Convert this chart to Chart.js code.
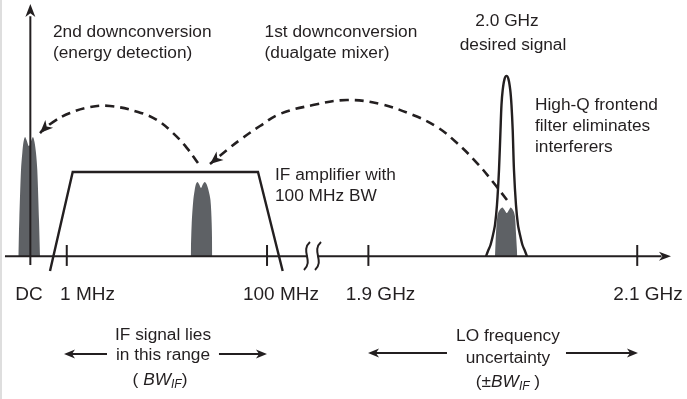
<!DOCTYPE html>
<html>
<head>
<meta charset="utf-8">
<script src="https://cdn.jsdelivr.net/npm/chart.js@4.4.1/dist/chart.umd.min.js"></script>
<style>
  html, body { margin: 0; padding: 0; background: #fff; }
  canvas { display: block; }
</style>
</head>
<body>
<canvas id="diagram" width="687" height="399"></canvas>
<script>
// Trục tần số (đơn vị sơ đồ: DC = 0, 2.1 GHz = 100), biên độ: đỉnh tín hiệu mong muốn = 1
const tickPositions = [0, 6, 39, 55.7, 100];
const tickLabels = ['DC', '1 MHz', '100 MHz', '1.9 GHz', '2.1 GHz'];
const tickLabelPositions = [-0.22, 9.42, 41.3, 57.7, 101.77];

// Tín hiệu sau lần hạ tần thứ 2 (quanh DC)
const dcSignalX = [-1.985, -1.82, -1.54, -1.326, -1.128, -0.881, -0.634, -0.222, 0.19, 0.437, 0.685, 0.932, 1.146, 1.426, 1.591];
const dcSignalY = [0, 0.201, 0.478, 0.573, 0.633, 0.661, 0.645, 0.611, 0.645, 0.661, 0.633, 0.573, 0.478, 0.201, 0];

// Tín hiệu IF
const ifSignalX = [26.42, 26.59, 26.85, 27.08, 27.29, 27.54, 27.79, 28.12, 28.45, 28.74, 29.03, 29.35, 29.68, 29.88, 29.98];
const ifSignalY = [0, 0.185, 0.312, 0.368, 0.401, 0.412, 0.401, 0.379, 0.401, 0.412, 0.401, 0.368, 0.312, 0.185, 0];

// Tín hiệu RF 2.0 GHz
const rfSignalX = [76.56, 76.73, 76.94, 77.22, 77.76, 78.13, 78.49, 78.87, 79.15, 79.61, 79.86, 80.02, 80.24];
const rfSignalY = [0, 0.129, 0.218, 0.251, 0.270, 0.257, 0.240, 0.257, 0.270, 0.251, 0.218, 0.129, 0];

// Bộ khuếch đại IF băng thông 100 MHz
const ifFilterX = [3.24, 6.98, 37.51, 41.58];
const ifFilterY = [-0.081, 0.467, 0.467, -0.081];

// Bộ lọc đầu vào High-Q
const rfFilterX = [75.08, 75.41, 75.82, 76.23, 76.56, 76.89, 77.22, 77.47, 77.63, 77.83, 78.13, 78.46,
                   78.78, 79.08, 79.28, 79.48, 79.69, 80.02, 80.35, 80.69, 81.09, 81.50, 81.83];
const rfFilterY = [0, 0.03, 0.063, 0.118, 0.174, 0.285, 0.478, 0.70, 0.838, 0.921, 0.982, 1.0,
                   0.982, 0.921, 0.838, 0.70, 0.478, 0.285, 0.174, 0.118, 0.063, 0.03, 0];

// Các mũi tên hạ tần (nét đứt)
const arc2ndX = [27.62, 25.81, 23.51, 20.87, 17.74, 13.12, 9.83, 6.53, 3.73, 1.92, 1.59];
const arc2ndY = [0.517, 0.600, 0.683, 0.755, 0.800, 0.833, 0.827, 0.794, 0.744, 0.694, 0.683];
const arc1stX = [78.54, 76.23, 73.60, 70.30, 67.0, 63.05, 57.61, 52.18, 46.57, 41.14, 37.84, 34.54, 32.40, 29.60];
const arc1stY = [0.312, 0.412, 0.517, 0.628, 0.717, 0.783, 0.844, 0.866, 0.838, 0.789, 0.722, 0.645, 0.589, 0.512];

const INK = '#231f20';
const GRAY = '#5e6165';
const FONT = '"Liberation Sans", Arial, sans-serif';
const NOTE_FONT = '17.3px ' + FONT;

// Chú thích (vị trí theo đơn vị của trục)
const notes = [
    { text: '2nd downconversion', x: 3.73, y: 1.243, align: 'left' },
    { text: '(energy detection)', x: 3.73, y: 1.126, align: 'left' },
    { text: '1st downconversion', x: 38.6, y: 1.243, align: 'left' },
    { text: '(dualgate mixer)', x: 38.6, y: 1.126, align: 'left' },
    { text: '2.0 GHz', x: 78.54, y: 1.304, align: 'center' },
    { text: 'desired signal', x: 79.53, y: 1.171, align: 'center' },
    { text: 'High-Q frontend', x: 83.15, y: 0.838, align: 'left' },
    { text: 'filter eliminates', x: 83.15, y: 0.722, align: 'left' },
    { text: 'interferers', x: 83.15, y: 0.606, align: 'left' },
    { text: 'IF amplifier with', x: 40.31, y: 0.451, align: 'left' },
    { text: '100 MHz BW', x: 40.31, y: 0.334, align: 'left' },
    { text: 'IF signal lies', x: 21.86, y: -0.436, align: 'center' },
    { text: 'in this range', x: 21.86, y: -0.546, align: 'center' },
    { text: 'LO frequency', x: 78.70, y: -0.441, align: 'center' },
    { text: 'uncertainty', x: 78.70, y: -0.563, align: 'center' }
];
const bwNotes = [
    { prefix: '( ', x: 21.36, y: -0.685 },
    { prefix: '(\u00b1', x: 78.70, y: -0.696, suffix: ' )' }
];
const rangeArrows = [
    { from: 12.63, to: 5.55, y: -0.541 },
    { from: 31.08, to: 38.99, y: -0.541 },
    { from: 68.65, to: 55.64, y: -0.535 },
    { from: 88.26, to: 100.12, y: -0.535 }
];

function toPoints(xs, ys) {
    return xs.map((x, i) => ({ x: x, y: ys[i] }));
}

function arrowHead(ctx, tx, ty, angle, len, half) {
    ctx.save();
    ctx.translate(tx, ty);
    ctx.rotate(angle);
    ctx.beginPath();
    ctx.moveTo(0, 0);
    ctx.lineTo(-len, -half);
    ctx.lineTo(-len * 0.72, 0);
    ctx.lineTo(-len, half);
    ctx.closePath();
    ctx.fillStyle = INK;
    ctx.fill();
    ctx.restore();
}

// Vẽ trục, vạch chia, nhãn, mũi tên và chữ
const diagramPlugin = {
    id: 'diagram',
    afterDatasetsDraw(chart) {
        const ctx = chart.ctx;
        const X = v => chart.scales.x.getPixelForValue(v);
        const Y = v => chart.scales.y.getPixelForValue(v);
        ctx.save();

        // viền xám bên trái
        ctx.fillStyle = '#dedede';
        ctx.fillRect(0, 0, 2, chart.height);

        ctx.strokeStyle = INK;
        ctx.lineWidth = 2;
        ctx.lineCap = 'butt';

        // trục ngang
        ctx.beginPath();
        ctx.moveTo(X(-4.18), Y(0));
        ctx.lineTo(X(104), Y(0));
        ctx.stroke();
        arrowHead(ctx, X(105.56), Y(0), 0, 12, 4.5);

        // trục đứng
        ctx.beginPath();
        ctx.moveTo(X(0), Y(-0.048));
        ctx.lineTo(X(0), Y(1.33));
        ctx.stroke();
        arrowHead(ctx, X(0), Y(1.398), -Math.PI / 2, 13, 5);

        // vạch chia
        tickPositions.forEach(p => {
            if (p === 0) return;
            ctx.beginPath();
            ctx.moveTo(X(p), Y(0.063));
            ctx.lineTo(X(p), Y(-0.053));
            ctx.stroke();
        });

        // ký hiệu ngắt trục
        ctx.fillStyle = '#fff';
        ctx.fillRect(X(45.7), Y(0) - 3, X(47.3) - X(45.7), 6);
        [45.58, 47.40].forEach(p => {
            const x = X(p), top = Y(0.08), bot = Y(-0.075);
            ctx.beginPath();
            ctx.moveTo(x + 3, top);
            ctx.bezierCurveTo(x - 7, top + 9, x + 7, bot - 9, x - 3, bot);
            ctx.stroke();
        });

        // mũi tên ở cuối các đường nét đứt
        chart.data.datasets.forEach((ds, i) => {
            if (!ds.arrowEnd) return;
            const pts = chart.getDatasetMeta(i).data;
            const a = pts[pts.length - 2], b = pts[pts.length - 1];
            arrowHead(ctx, b.x, b.y, Math.atan2(b.y - a.y, b.x - a.x), 13, 5.5);
        });

        // mũi tên chỉ khoảng
        ctx.lineWidth = 2;
        rangeArrows.forEach(r => {
            const dir = r.to > r.from ? 1 : -1;
            ctx.beginPath();
            ctx.moveTo(X(r.from), Y(r.y));
            ctx.lineTo(X(r.to) - dir * 7, Y(r.y));
            ctx.stroke();
            arrowHead(ctx, X(r.to), Y(r.y), dir > 0 ? 0 : Math.PI, 11, 4.5);
        });

        // nhãn trục
        ctx.fillStyle = INK;
        ctx.textBaseline = 'middle';
        ctx.textAlign = 'center';
        ctx.font = '19px ' + FONT;
        tickLabels.forEach((t, i) => ctx.fillText(t, X(tickLabelPositions[i]), Y(-0.214)));

        // chú thích
        ctx.font = NOTE_FONT;
        notes.forEach(n => {
            ctx.textAlign = n.align;
            ctx.fillText(n.text, X(n.x), Y(n.y));
        });

        // ( BW_IF )
        ctx.textAlign = 'left';
        bwNotes.forEach(n => {
            const parts = [
                { t: n.prefix, f: NOTE_FONT, dy: 0 },
                { t: 'BW', f: 'italic 17.3px ' + FONT, dy: 0 },
                { t: 'IF', f: 'italic 12px ' + FONT, dy: 5 },
                { t: n.suffix || ')', f: NOTE_FONT, dy: 0 }
            ];
            let w = 0;
            parts.forEach(p => { ctx.font = p.f; w += ctx.measureText(p.t).width; });
            let x = X(n.x) - w / 2;
            parts.forEach(p => {
                ctx.font = p.f;
                ctx.fillText(p.t, x, Y(n.y) + p.dy);
                x += ctx.measureText(p.t).width;
            });
        });

        ctx.restore();
    }
};

window.initializeDiagram = function (canvasId) {
    const el = document.getElementById(canvasId);
    if (!el) {
        console.error('canvas not found:', canvasId);
        return;
    }
    window[canvasId] = new Chart(el, {
        type: 'scatter',
        data: {
            datasets: [
                { data: toPoints(arc2ndX, arc2ndY), showLine: true, borderColor: INK, borderWidth: 2.6,
                  borderDash: [9, 6], tension: 0.4, pointRadius: 0, fill: false, arrowEnd: true, order: 1 },
                { data: toPoints(arc1stX, arc1stY), showLine: true, borderColor: INK, borderWidth: 2.6,
                  borderDash: [9, 6], tension: 0.4, pointRadius: 0, fill: false, arrowEnd: true, order: 1 },
                { data: toPoints(ifFilterX, ifFilterY), showLine: true, borderColor: INK, borderWidth: 2.4,
                  tension: 0, pointRadius: 0, fill: false, order: 2 },
                { data: toPoints(rfFilterX, rfFilterY), showLine: true, borderColor: INK, borderWidth: 2.4,
                  tension: 0.3, pointRadius: 0, fill: false, order: 2 },
                { data: toPoints(dcSignalX, dcSignalY), showLine: true, borderWidth: 0, borderColor: GRAY,
                  backgroundColor: GRAY, tension: 0.3, pointRadius: 0, fill: 'origin', order: 3 },
                { data: toPoints(ifSignalX, ifSignalY), showLine: true, borderWidth: 0, borderColor: GRAY,
                  backgroundColor: GRAY, tension: 0.3, pointRadius: 0, fill: 'origin', order: 3 },
                { data: toPoints(rfSignalX, rfSignalY), showLine: true, borderWidth: 0, borderColor: GRAY,
                  backgroundColor: GRAY, tension: 0.3, pointRadius: 0, fill: 'origin', order: 3 }
            ]
        },
        options: {
            responsive: false,
            animation: false,
            events: [],
            layout: { padding: 0 },
            plugins: { legend: { display: false }, tooltip: { enabled: false } },
            scales: {
                x: { type: 'linear', min: -5, max: 108.2, display: false },
                y: { type: 'linear', min: -0.79, max: 1.42, display: false }
            }
        },
        plugins: [diagramPlugin]
    });
};

window.initializeDiagram('diagram');
</script>
</body>
</html>
